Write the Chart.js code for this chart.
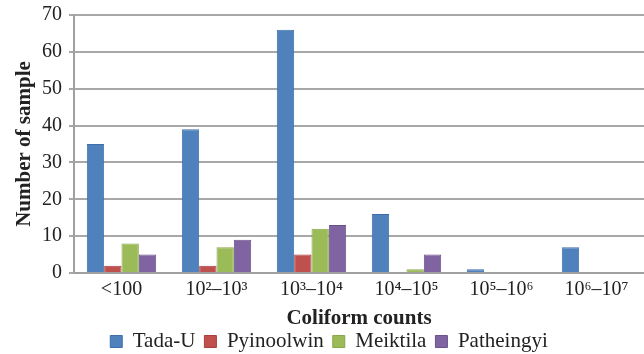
<!DOCTYPE html>
<html><head><meta charset="utf-8">
<script src="https://cdn.jsdelivr.net/npm/chart.js@4"></script>
<style>html,body{margin:0;padding:0;background:#fff}#wrap{width:644px;height:354px}</style>
</head><body><div id="wrap"><canvas id="c" width="644" height="354"></canvas></div>
<script>
const categories = ["<100", "10²–10³", "10³–10⁴", "10⁴–10⁵", "10⁵–10⁶", "10⁶–10⁷"];
const tadaU = [35, 39, 66, 16, 1, 7];
const pyinoolwin = [2, 2, 5, 0, 0, 0];
const meiktila = [8, 7, 12, 1, 0, 0];
const patheingyi = [5, 9, 13, 5, 0, 0];
const yTicks = [0, 10, 20, 30, 40, 50, 60, 70];

const serif = "'Liberation Serif', 'Times New Roman', 'DejaVu Serif', serif";
Chart.defaults.font.family = serif;
Chart.defaults.color = '#222';
new Chart(document.getElementById('c'), {
  type: 'bar',
  data: {
    labels: categories,
    datasets: [
      {label: 'Tada-U', data: tadaU, backgroundColor: '#4F81BD', borderColor: '#3E6FAA', borderWidth: 1},
      {label: 'Pyinoolwin', data: pyinoolwin, backgroundColor: '#C0504D', borderColor: '#A8403D', borderWidth: 1},
      {label: 'Meiktila', data: meiktila, backgroundColor: '#9BBB59', borderColor: '#88A64A', borderWidth: 1},
      {label: 'Patheingyi', data: patheingyi, backgroundColor: '#8064A2', borderColor: '#6C528D', borderWidth: 1}
    ]
  },
  options: {
    responsive: false,
    animation: false,
    devicePixelRatio: 1,
    layout: {padding: {top: -2, right: 0, left: 14, bottom: -8}},
    datasets: {bar: {barPercentage: 1.0, categoryPercentage: 0.73}},
    plugins: {
      legend: {
        position: 'bottom',
        labels: {font: {family: serif, size: 21, lineHeight: 1.0}, color: '#222', boxWidth: 12, boxHeight: 12, padding: 9}
      },
      tooltip: {enabled: false}
    },
    scales: {
      x: {
        grid: {display: false, drawTicks: false},
        border: {color: '#a0a0a0', width: 2},
        ticks: {font: {family: serif, size: 20}, color: '#222', padding: 5},
        title: {display: true, text: 'Coliform counts', font: {family: serif, size: 21, weight: 'bold', lineHeight: 1.0}, color: '#222', padding: {top: 1, bottom: -7}}
      },
      y: {
        min: 0, max: 70,
        afterBuildTicks: (ax) => { ax.ticks = yTicks.map(v => ({value: v})); },
        grid: {color: '#a8a8a8', lineWidth: 2, tickLength: 5},
        border: {color: '#a0a0a0', width: 2},
        ticks: {font: {family: serif, size: 20, lineHeight: 0.8}, color: '#222', padding: 7},
        title: {display: true, text: 'Number of sample', font: {family: serif, size: 21, weight: 'bold', lineHeight: 1.0}, color: '#222', padding: {top: 0, bottom: 0}}
      }
    }
  }
});
</script></body></html>
